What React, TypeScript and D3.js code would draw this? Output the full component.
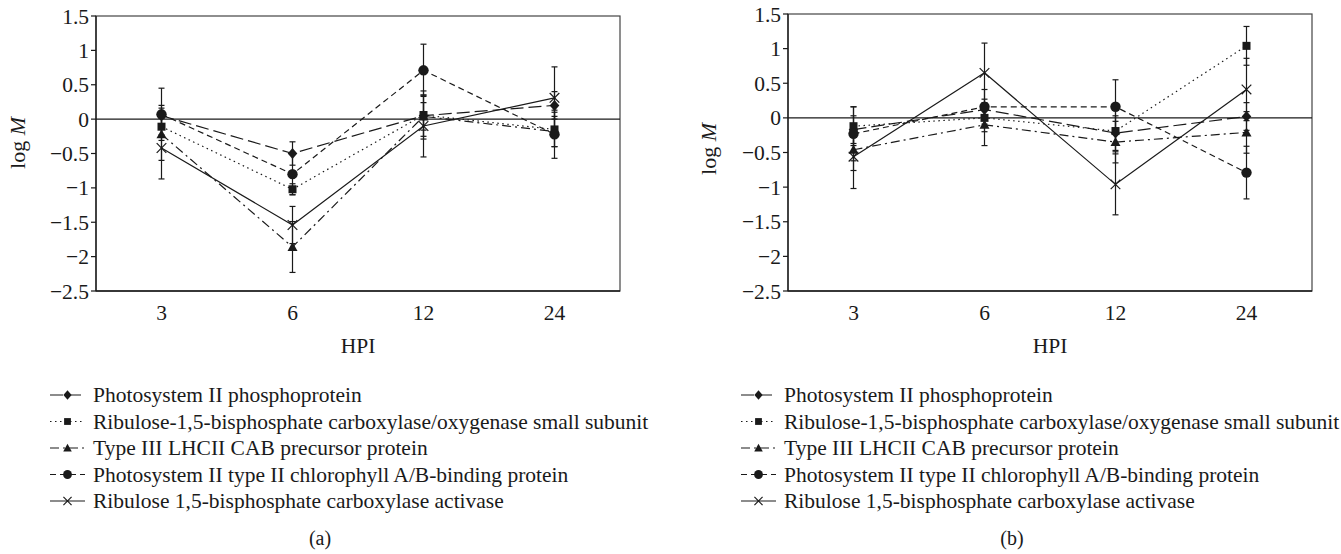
import React from "react";
import * as d3 from "d3";

// hours post inoculation
const HPI = ["3", "6", "12", "24"];
const Y_TICKS = [1.5, 1, 0.5, 0, -0.5, -1, -1.5, -2, -2.5];

const SERIES = [
  "Photosystem II phosphoprotein",
  "Ribulose-1,5-bisphosphate carboxylase/oxygenase small subunit",
  "Type III LHCII CAB precursor protein",
  "Photosystem II type II chlorophyll A/B-binding protein",
  "Ribulose 1,5-bisphosphate carboxylase activase",
];

// panel (a)
const aPhospho = [0.05, -0.5, 0.05, 0.2];
const aSmallSub = [-0.11, -1.02, 0.06, -0.15];
const aLhcii = [-0.22, -1.86, 0.04, -0.18];
const aCab = [0.07, -0.8, 0.71, -0.22];
const aActivase = [-0.42, -1.54, -0.1, 0.31];
const aPhosphoErr = [0.15, 0.17, 0.3, 0.2];
const aSmallSubErr = [0.12, 0.08, 0.35, 0.25];
const aLhciiErr = [0.38, 0.37, 0.2, 0.22];
const aCabErr = [0.38, 0.3, 0.38, 0.35];
const aActivaseErr = [0.45, 0.27, 0.45, 0.45];

// panel (b)
const bPhospho = [-0.17, 0.12, -0.22, 0.02];
const bSmallSub = [-0.12, 0.0, -0.19, 1.04];
const bLhcii = [-0.46, -0.1, -0.35, -0.21];
const bCab = [-0.23, 0.16, 0.16, -0.79];
const bActivase = [-0.56, 0.65, -0.96, 0.41];
const bPhosphoErr = [0.2, 0.15, 0.25, 0.2];
const bSmallSubErr = [0.28, 0.2, 0.3, 0.28];
const bLhciiErr = [0.3, 0.3, 0.3, 0.3];
const bCabErr = [0.39, 0.25, 0.39, 0.38];
const bActivaseErr = [0.46, 0.43, 0.44, 0.45];

const SHAPES = ["diamond", "square", "triangle", "circle", "cross"];
const DASHES = ["13,5", "1.5,3.5", "9,4,2,4", "6,4", "none"];

const FONT = "'Liberation Serif', 'DejaVu Serif', serif";
const INK = "#1a1a1a";
const FS = 21.5;

const fmt = (v: number) => String(v).replace("-", "\u2212");

function Marker({ shape, x, y, s = 1 }: { shape: string; x: number; y: number; s?: number }) {
  if (shape === "diamond") {
    const w = 4.8 * s, h = 5.5 * s;
    return <polygon points={`${x},${y - h} ${x + w},${y} ${x},${y + h} ${x - w},${y}`} fill={INK} />;
  }
  if (shape === "square") {
    const h = 4 * s;
    return <rect x={x - h} y={y - h} width={2 * h} height={2 * h} fill={INK} />;
  }
  if (shape === "triangle") {
    const h = 5 * s;
    return <polygon points={`${x},${y - h} ${x + h},${y + h * 0.8} ${x - h},${y + h * 0.8}`} fill={INK} />;
  }
  if (shape === "circle") {
    return <circle cx={x} cy={y} r={5.2 * s} fill={INK} />;
  }
  const h = 4.8 * s;
  return (
    <g stroke={INK} strokeWidth={1.2}>
      <line x1={x - h} y1={y - h} x2={x + h} y2={y + h} />
      <line x1={x - h} y1={y + h} x2={x + h} y2={y - h} />
    </g>
  );
}

function Panel(props: {
  left: number; right: number; top: number; bottom: number;
  values: number[][]; errors: number[][];
  yLabelX: number; yLabelY: number;
  legendX: number; tag: string;
}) {
  const { left, right, top, bottom, values, errors } = props;
  const x = d3.scalePoint<string>().domain(HPI).range([left, right]).padding(0.5);
  const y = d3.scaleLinear().domain([-2.5, 1.5]).range([bottom, top]);
  const line = d3.line<number>().x((_, i) => x(HPI[i]) as number).y((d) => y(d));
  const mid = (left + right) / 2;
  const rows = [402, 428.5, 455, 481.5, 508];

  return (
    <g fontFamily={FONT} fill={INK}>
      {/* frame */}
      <rect x={left} y={top} width={right - left} height={bottom - top} fill="none" stroke="#444" strokeWidth={1.2} />
      <line x1={left} x2={left} y1={top} y2={bottom} stroke={INK} strokeWidth={1.3} />
      <line x1={left} x2={right} y1={bottom} y2={bottom} stroke={INK} strokeWidth={1.3} />
      <line x1={left} x2={right} y1={y(0)} y2={y(0)} stroke={INK} strokeWidth={1.1} />
      {Y_TICKS.map((t) => (
        <g key={t}>
          <line x1={left - 5} x2={left} y1={y(t)} y2={y(t)} stroke={INK} strokeWidth={1.2} />
          <text x={left - 7} y={y(t)} dy="0.35em" textAnchor="end" fontSize={FS}>{fmt(t)}</text>
        </g>
      ))}
      {HPI.map((h) => (
        <text key={h} x={x(h)} y={320} textAnchor="middle" fontSize={FS}>{h}</text>
      ))}
      <text x={mid} y={353} textAnchor="middle" fontSize={FS}>HPI</text>
      <text transform={`translate(${props.yLabelX},${props.yLabelY}) rotate(-90)`} textAnchor="middle" fontSize={22}>
        log <tspan fontStyle="italic">M</tspan>
      </text>

      {/* error bars */}
      {values.map((vals, si) =>
        vals.map((v, i) => {
          const cx = x(HPI[i]) as number;
          const e = errors[si][i];
          return (
            <g key={`e${si}-${i}`} stroke={INK} strokeWidth={1.2}>
              <line x1={cx} x2={cx} y1={y(v + e)} y2={y(v - e)} />
              <line x1={cx - 3} x2={cx + 3} y1={y(v + e)} y2={y(v + e)} />
              <line x1={cx - 3} x2={cx + 3} y1={y(v - e)} y2={y(v - e)} />
            </g>
          );
        })
      )}
      {/* series lines */}
      {values.map((vals, si) => (
        <path key={`l${si}`} d={line(vals) || ""} fill="none" stroke={INK} strokeWidth={1.2}
          strokeDasharray={DASHES[si]} />
      ))}
      {values.map((vals, si) =>
        vals.map((v, i) => <Marker key={`m${si}-${i}`} shape={SHAPES[si]} x={x(HPI[i]) as number} y={y(v)} />)
      )}

      {/* legend */}
      {SERIES.map((name, si) => (
        <g key={name}>
          <line x1={props.legendX} x2={props.legendX + 35} y1={rows[si] - 7} y2={rows[si] - 7}
            stroke={INK} strokeWidth={1.2} strokeDasharray={DASHES[si]} />
          <Marker shape={SHAPES[si]} x={props.legendX + 17.5} y={rows[si] - 7} s={0.85} />
          <text x={props.legendX + 43} y={rows[si]} fontSize={FS}>{name}</text>
        </g>
      ))}
      <text x={mid - 38} y={545} textAnchor="middle" fontSize={20}>{props.tag}</text>
    </g>
  );
}

export default function App() {
  return (
    <svg width={1341} height={554} style={{ position: "absolute", left: 0, top: 0, background: "#fff" }}>
      <Panel left={96} right={620} top={16} bottom={291}
        values={[aPhospho, aSmallSub, aLhcii, aCab, aActivase]}
        errors={[aPhosphoErr, aSmallSubErr, aLhciiErr, aCabErr, aActivaseErr]}
        yLabelX={25} yLabelY={143} legendX={50} tag="(a)" />
      <Panel left={788} right={1312} top={14} bottom={291}
        values={[bPhospho, bSmallSub, bLhcii, bCab, bActivase]}
        errors={[bPhosphoErr, bSmallSubErr, bLhciiErr, bCabErr, bActivaseErr]}
        yLabelX={716} yLabelY={149} legendX={741} tag="(b)" />
    </svg>
  );
}
